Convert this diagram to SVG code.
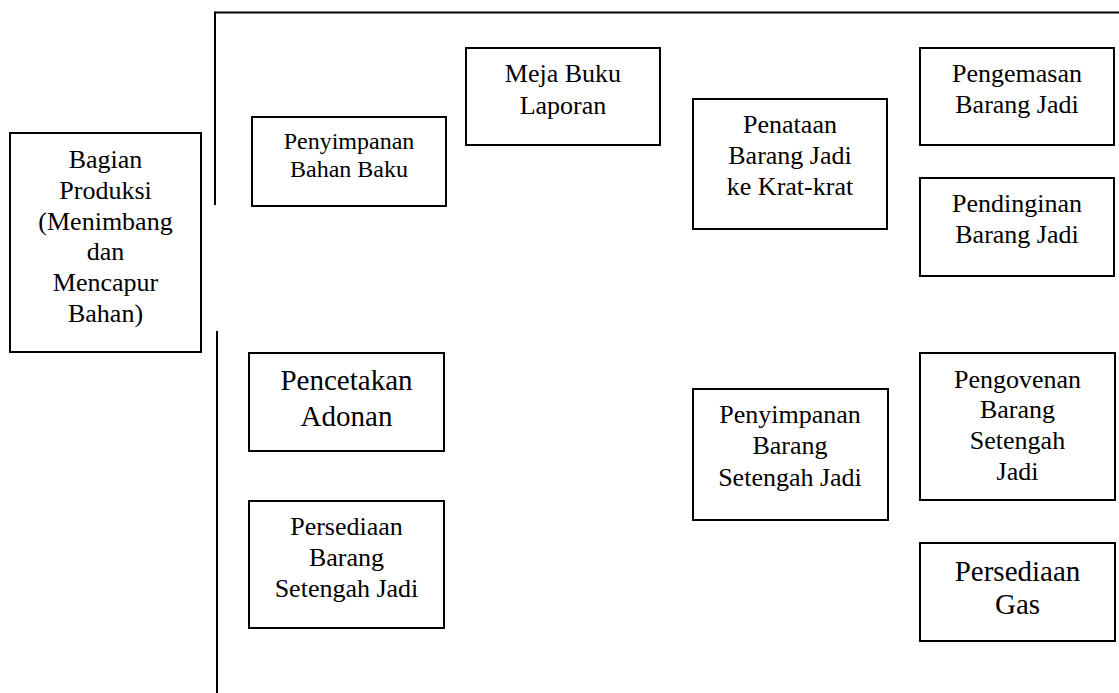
<svg xmlns="http://www.w3.org/2000/svg" width="1119" height="693" viewBox="0 0 1119 693">
  <style>
    .box { fill: #ffffff; stroke: #000000; stroke-width: 2; }
    .wall { stroke: #000000; stroke-width: 2; fill: none; }
    text { font-family: "Liberation Serif", "Times New Roman", serif; fill: #000000; text-anchor: middle; }
    .t26 { font-size: 26px; }
    .t24 { font-size: 24px; }
    .t29 { font-size: 29px; }
  </style>
  <rect x="0" y="0" width="1119" height="693" fill="#ffffff"/>

  <!-- walls of the room -->
  <g id="connectors">
    <line class="wall" x1="215" y1="12.5" x2="1119" y2="12.5"/>
    <line class="wall" x1="215" y1="11.5" x2="215" y2="205"/>
    <line class="wall" x1="217" y1="331" x2="217" y2="693"/>
  </g>

  <g id="bagian-produksi">
    <rect class="box" x="10" y="133" width="191" height="219"/>
    <text class="t26" x="105.5" y="168">Bagian</text>
    <text class="t26" x="105.5" y="198.8">Produksi</text>
    <text class="t26" x="105.5" y="229.6">(Menimbang</text>
    <text class="t26" x="105.5" y="260.4">dan</text>
    <text class="t26" x="105.5" y="291.2">Mencapur</text>
    <text class="t26" x="105.5" y="322">Bahan)</text>
  </g>

  <g id="penyimpanan-bahan-baku">
    <rect class="box" x="252" y="117" width="194" height="89"/>
    <text class="t24" x="349" y="149">Penyimpanan</text>
    <text class="t24" x="349" y="176.7">Bahan Baku</text>
  </g>

  <g id="meja-buku-laporan">
    <rect class="box" x="466" y="48" width="194" height="97"/>
    <text class="t26" x="563" y="82">Meja Buku</text>
    <text class="t26" x="563" y="113.5">Laporan</text>
  </g>

  <g id="penataan-barang-jadi">
    <rect class="box" x="693" y="99" width="194" height="130"/>
    <text class="t26" x="790" y="132.5">Penataan</text>
    <text class="t26" x="790" y="163.5">Barang Jadi</text>
    <text class="t26" x="790" y="194.5">ke Krat-krat</text>
  </g>

  <g id="pengemasan-barang-jadi">
    <rect class="box" x="920" y="48" width="194" height="97"/>
    <text class="t26" x="1017" y="81.7">Pengemasan</text>
    <text class="t26" x="1017" y="113.3">Barang Jadi</text>
  </g>

  <g id="pendinginan-barang-jadi">
    <rect class="box" x="920" y="178" width="194" height="98"/>
    <text class="t26" x="1017" y="211.7">Pendinginan</text>
    <text class="t26" x="1017" y="243.3">Barang Jadi</text>
  </g>

  <g id="pencetakan-adonan">
    <rect class="box" x="249" y="353" width="195" height="98"/>
    <text class="t29" x="346.5" y="390">Pencetakan</text>
    <text class="t29" x="346.5" y="425.7">Adonan</text>
  </g>

  <g id="persediaan-barang-setengah-jadi">
    <rect class="box" x="249" y="501" width="195" height="127"/>
    <text class="t26" x="346.5" y="535">Persediaan</text>
    <text class="t26" x="346.5" y="566">Barang</text>
    <text class="t26" x="346.5" y="597">Setengah Jadi</text>
  </g>

  <g id="penyimpanan-barang-setengah-jadi">
    <rect class="box" x="693" y="389" width="195" height="131"/>
    <text class="t26" x="790" y="423.3">Penyimpanan</text>
    <text class="t26" x="790" y="454">Barang</text>
    <text class="t26" x="790" y="485.7">Setengah Jadi</text>
  </g>

  <g id="pengovenan-barang-setengah-jadi">
    <rect class="box" x="920" y="353" width="195" height="147"/>
    <text class="t26" x="1017.5" y="387.7">Pengovenan</text>
    <text class="t26" x="1017.5" y="418.3">Barang</text>
    <text class="t26" x="1017.5" y="448.7">Setengah</text>
    <text class="t26" x="1017.5" y="480">Jadi</text>
  </g>

  <g id="persediaan-gas">
    <rect class="box" x="920" y="543" width="195" height="98"/>
    <text class="t29" x="1017.5" y="581">Persediaan</text>
    <text class="t29" x="1017.5" y="614.3">Gas</text>
  </g>
</svg>
